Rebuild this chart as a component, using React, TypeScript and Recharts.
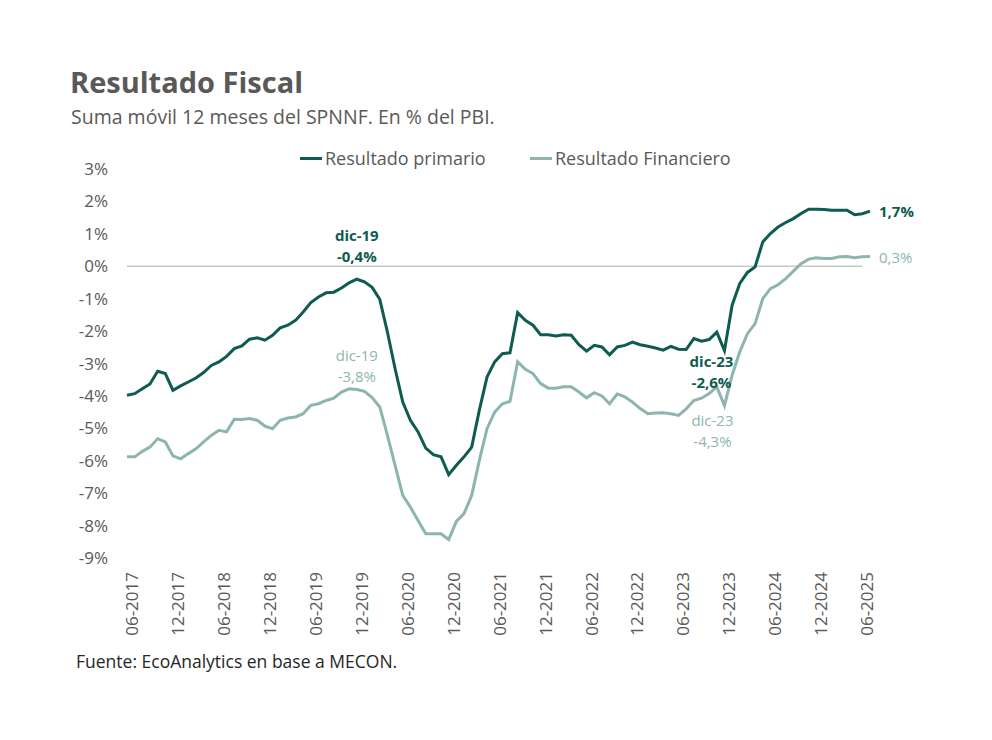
import { Line, LineChart, ReferenceLine, XAxis, YAxis } from 'recharts';

const FONT = '"Open Sans", sans-serif';
const DARK = '#0E5B51';
const LIGHT = '#8DB5B0';
const GRAY = '#595959';

// Monthly categories, 06-2017 .. 07-2025
const months = Array.from({ length: 98 }, (_, i) => {
  const m = ((5 + i) % 12) + 1;
  const y = 2017 + Math.floor((5 + i) / 12);
  return `${String(m).padStart(2, '0')}-${y}`;
});

const xTicks = [
  '06-2017', '12-2017', '06-2018', '12-2018', '06-2019', '12-2019',
  '06-2020', '12-2020', '06-2021', '12-2021', '06-2022', '12-2022',
  '06-2023', '12-2023', '06-2024', '12-2024', '06-2025',
];

const yTicks = [-9, -8, -7, -6, -5, -4, -3, -2, -1, 0, 1, 2, 3];

// Resultado primario, % del PBI
const primario = [
  -3.98, -3.93, -3.78, -3.63, -3.24, -3.31, -3.83, -3.69, -3.57, -3.45,
  -3.28, -3.06, -2.95, -2.78, -2.54, -2.46, -2.25, -2.21, -2.28, -2.13,
  -1.9, -1.82, -1.67, -1.41, -1.12, -0.95, -0.82, -0.8, -0.67, -0.51,
  -0.4, -0.48, -0.65, -1.02, -2.03, -3.16, -4.19, -4.75, -5.11, -5.61,
  -5.81, -5.88, -6.43, -6.14, -5.88, -5.58, -4.44, -3.42, -2.95, -2.7,
  -2.67, -1.43, -1.67, -1.82, -2.11, -2.11, -2.15, -2.11, -2.13, -2.42,
  -2.62, -2.44, -2.49, -2.73, -2.49, -2.44, -2.34, -2.42, -2.47, -2.52,
  -2.59, -2.47, -2.56, -2.57, -2.23, -2.31, -2.26, -2.03, -2.6, -1.2,
  -0.53, -0.19, -0.02, 0.75, 1.01, 1.21, 1.35, 1.47, 1.63, 1.76,
  1.76, 1.75, 1.73, 1.73, 1.73, 1.59, 1.62, 1.7,
];

// Resultado financiero, % del PBI
const financiero = [
  -5.88, -5.88, -5.71, -5.58, -5.32, -5.42, -5.85, -5.94, -5.78, -5.63,
  -5.42, -5.22, -5.06, -5.11, -4.72, -4.73, -4.7, -4.75, -4.93, -5.01,
  -4.75, -4.68, -4.65, -4.55, -4.29, -4.24, -4.14, -4.07, -3.88, -3.78,
  -3.8, -3.86, -4.05, -4.34, -5.22, -6.14, -7.07, -7.43, -7.84, -8.25,
  -8.25, -8.25, -8.43, -7.87, -7.63, -7.07, -5.99, -5.01, -4.5, -4.24,
  -4.17, -2.95, -3.18, -3.31, -3.62, -3.76, -3.76, -3.72, -3.72, -3.88,
  -4.06, -3.9, -4.0, -4.24, -3.94, -4.03, -4.19, -4.39, -4.55, -4.53,
  -4.52, -4.55, -4.6, -4.4, -4.14, -4.07, -3.93, -3.72, -4.3, -3.36,
  -2.64, -2.08, -1.77, -1.0, -0.69, -0.57, -0.38, -0.15, 0.08, 0.22,
  0.26, 0.24, 0.24, 0.29, 0.3, 0.26, 0.29, 0.3,
];

const data = months.map((month, i) => ({
  month,
  primario: primario[i],
  financiero: financiero[i],
}));

const pct = (v: number) => `${v.toFixed(1).replace('.', ',')}%`;

type Note = { index: number; dx: number; dy: number; anchor: string; date?: string };

// point annotations: [date line, value line] offsets from the point
function makeLabel(notes: Note[], color: string, weight: number) {
  return (props: any) => {
    const { x, y, index, value } = props;
    const n = notes.find((o) => o.index === index);
    if (!n) return null;
    const common = {
      fill: color,
      fontFamily: FONT,
      fontSize: 15,
      fontWeight: weight,
      textAnchor: n.anchor as any,
    };
    if (!n.date) {
      return (
        <text key={`l-${index}`} x={x + n.dx} y={y + n.dy} dy="0.35em" {...common}>
          {pct(value)}
        </text>
      );
    }
    return (
      <g key={`l-${index}`}>
        <text x={x + n.dx} y={y + n.dy} dy="0.35em" {...common}>{n.date}</text>
        <text x={x + n.dx} y={y + n.dy + 21} dy="0.35em" {...common}>{pct(value)}</text>
      </g>
    );
  };
}

const primarioLabel = makeLabel(
  [
    { index: 30, dx: 0, dy: -43, anchor: 'middle', date: 'dic-19' },
    { index: 78, dx: -13, dy: 11, anchor: 'middle', date: 'dic-23' },
    { index: 97, dx: 9, dy: 1, anchor: 'start' },
  ],
  DARK,
  700,
);

const financieroLabel = makeLabel(
  [
    { index: 30, dx: 0, dy: -34, anchor: 'middle', date: 'dic-19' },
    { index: 78, dx: -12, dy: 15, anchor: 'middle', date: 'dic-23' },
    { index: 97, dx: 9, dy: 1, anchor: 'start' },
  ],
  LIGHT,
  400,
);

function MonthTick({ x, y, payload }: any) {
  return (
    <g transform={`translate(${x + 5},${y})`}>
      <text
        transform="rotate(-90)"
        textAnchor="end"
        dy="0.35em"
        fill={GRAY}
        fontFamily={FONT}
        fontSize={17}
      >
        {payload.value}
      </text>
    </g>
  );
}

const legendItems = [
  { name: 'Resultado primario', color: DARK, left: 300 },
  { name: 'Resultado Financiero', color: LIGHT, left: 530 },
];

export default function App() {
  return (
    <div style={{ position: 'fixed', left: 0, top: 0, width: 992, height: 740, background: '#fff' }}>
      <div
        style={{
          position: 'absolute', left: 70, top: 65, fontFamily: FONT, fontWeight: 700,
          fontSize: 29, lineHeight: '34px', color: GRAY,
        }}
      >
        Resultado Fiscal
      </div>
      <div
        style={{
          position: 'absolute', left: 71, top: 104, fontFamily: FONT, fontSize: 19.5,
          lineHeight: '26px', color: GRAY,
        }}
      >
        Suma móvil 12 meses del SPNNF. En % del PBI.
      </div>
      <div style={{ position: 'absolute', left: 0, top: 0 }}>
        <LineChart
          width={992}
          height={740}
          data={data}
          margin={{ top: 169, right: 122, bottom: 0, left: 67 }}
        >
          <XAxis
            dataKey="month"
            ticks={xTicks}
            interval={0}
            tick={<MonthTick />}
            tickLine={false}
            axisLine={false}
            tickSize={0}
            tickMargin={14}
            height={182}
          />
          <YAxis
            domain={[-9, 3]}
            ticks={yTicks}
            tickFormatter={(v) => `${v}%`}
            tick={{ fill: GRAY, fontFamily: FONT, fontSize: 17 }}
            tickLine={false}
            axisLine={false}
            tickSize={0}
            tickMargin={19}
            width={60}
          />
          <ReferenceLine
            segment={[{ x: '06-2017', y: 0 }, { x: '06-2025', y: 0 }]}
            stroke="#C8C8C8"
            strokeWidth={1.5}
          />
          <Line
            dataKey="financiero"
            name="Resultado Financiero"
            stroke={LIGHT}
            strokeWidth={3}
            dot={false}
            label={financieroLabel}
            isAnimationActive={false}
          />
          <Line
            dataKey="primario"
            name="Resultado primario"
            stroke={DARK}
            strokeWidth={3}
            dot={false}
            label={primarioLabel}
            isAnimationActive={false}
          />
        </LineChart>
      </div>
      {legendItems.map((it) => (
        <div
          key={it.name}
          style={{
            position: 'absolute', left: it.left, top: 146, height: 24, display: 'flex',
            alignItems: 'center', fontFamily: FONT, fontSize: 18, color: GRAY, whiteSpace: 'nowrap',
          }}
        >
          <span style={{ width: 22, height: 3, background: it.color, marginRight: 3 }} />
          <span>{it.name}</span>
        </div>
      ))}
      <div
        style={{
          position: 'absolute', left: 76, top: 649, fontFamily: FONT, fontSize: 17.5,
          lineHeight: '24px', color: '#262626',
        }}
      >
        Fuente: EcoAnalytics en base a MECON.
      </div>
    </div>
  );
}
